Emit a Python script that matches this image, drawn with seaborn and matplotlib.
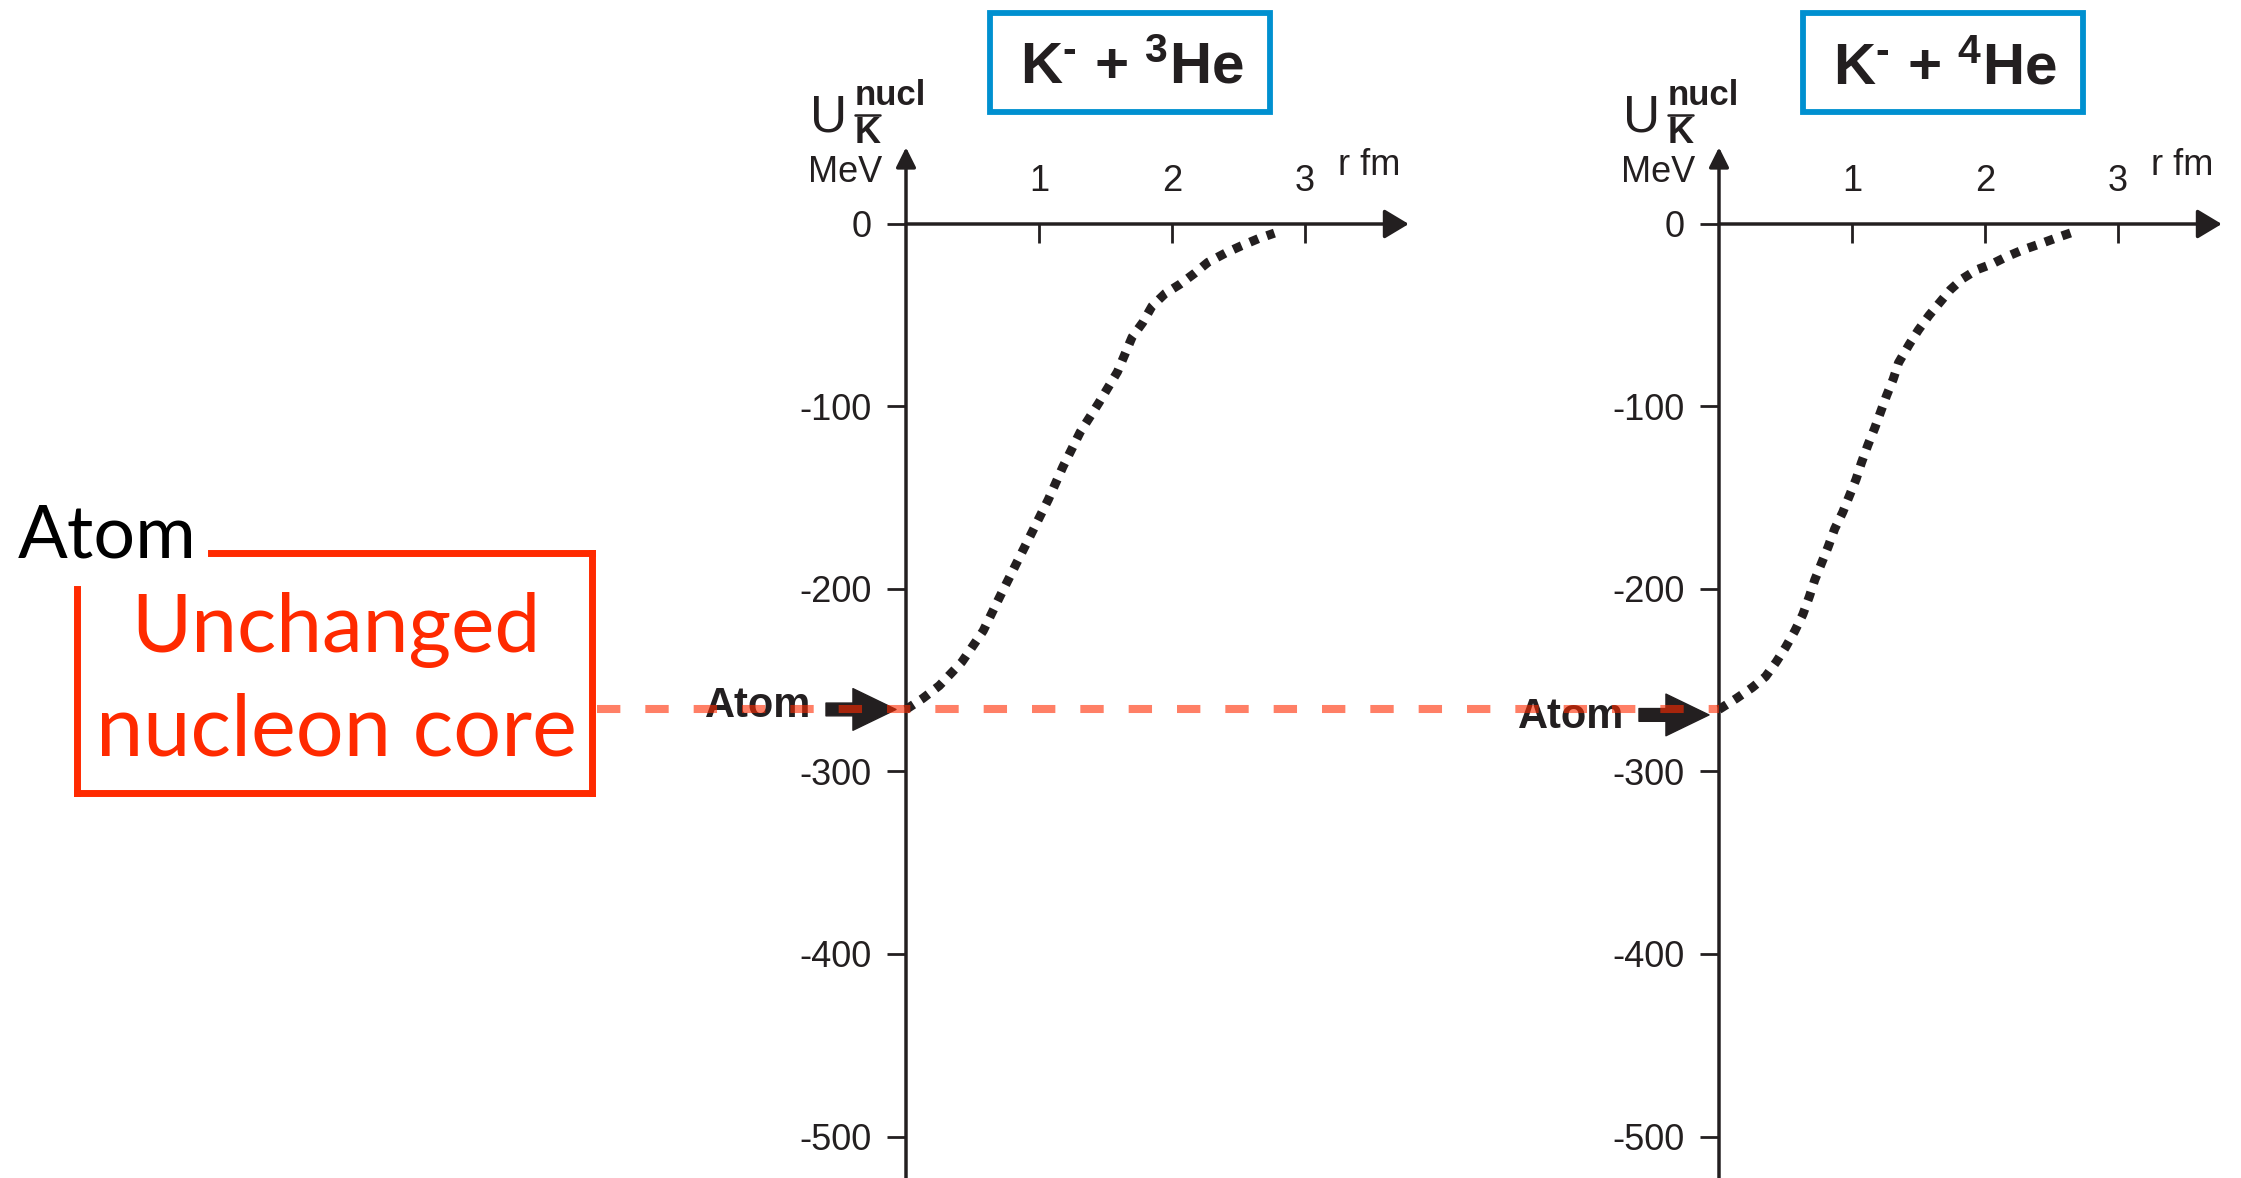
import numpy as np
import pandas as pd
import matplotlib
matplotlib.use('Agg')
import matplotlib.pyplot as plt
import seaborn as sns
from matplotlib.lines import Line2D
from matplotlib.patches import Rectangle

# potencial K- nucleo para 3He y 4He (r en fm, U en MeV)
r_he3 = [0.0, 0.125, 0.25, 0.42, 0.58, 0.70, 0.83, 0.94, 1.07, 1.18, 1.31,
         1.45, 1.59, 1.70, 1.78, 1.85, 1.95, 2.06, 2.17, 2.27, 2.40, 2.52,
         2.65, 2.77]
u_he3 = [-266, -260, -253, -240, -223, -205, -186, -170, -151, -133, -114,
         -98, -81, -62, -54, -45, -38, -33, -27, -21, -16, -12, -8, -5]

r_he4 = [0.0, 0.13, 0.25, 0.35, 0.43, 0.50, 0.57, 0.63, 0.68, 0.72, 0.77,
         0.82, 0.87, 0.93, 0.98, 1.03, 1.07, 1.12, 1.17, 1.21, 1.26, 1.31,
         1.35, 1.43, 1.50, 1.58, 1.66, 1.74, 1.83, 1.94, 2.05, 2.16, 2.29,
         2.41, 2.56, 2.68]
u_he4 = [-266, -260, -254, -248, -240, -232, -223, -214, -204, -195, -186,
         -177, -167, -158, -149, -140, -131, -121, -112, -104, -94, -85,
         -76, -66, -58, -50, -43, -36, -30, -25, -22, -18, -14, -11, -7, -4]

titulos = [r'K$^{\text{-}}$ + ${}^{3}$He', r'K$^{\text{-}}$ + ${}^{4}$He']
x_ticks = [1, 2, 3]
x_tick_labels = ['1', '2', '3']
y_ticks = [0, -100, -200, -300, -400, -500]
y_tick_labels = ['0', '-100', '-200', '-300', '-400', '-500']
nivel_atom = -266

sns.set_style('white')
plt.rcParams['font.family'] = ['Liberation Sans', 'DejaVu Sans']
plt.rcParams['mathtext.fontset'] = 'custom'
plt.rcParams['mathtext.rm'] = 'Liberation Sans:bold'
plt.rcParams['mathtext.bf'] = 'Liberation Sans:bold'
plt.rcParams['mathtext.default'] = 'bf'

tinta = '#231F20'
rojo = '#FF2A00'
azul = '#0090D0'

W, H = 2241, 1178
fig = plt.figure(figsize=(W / 100, H / 100), dpi=100)

PX_FM = 133.0     # pixeles por fm
PX_MEV = 1.825    # pixeles por MeV
Y0 = 224          # pixel del cero de energia
origenes = [906, 1719]

def fx(x):
    return x / W

def fy(y):
    return 1 - y / H

datos = [(r_he3, u_he3), (r_he4, u_he4)]
ejes = []
for i, ox in enumerate(origenes):
    izq, der, arriba = ox - 150, ox + 520, 120
    ax = fig.add_axes([fx(izq), 0, (der - izq) / W, (H - arriba) / H])
    ax.set_xlim(-150 / PX_FM, 520 / PX_FM)
    ax.set_ylim(-(H - Y0) / PX_MEV, (Y0 - arriba) / PX_MEV)
    ax.patch.set_alpha(0)
    for s in ax.spines.values():
        s.set_visible(False)
    ax.spines['left'].set_position(('data', 0))
    ax.spines['top'].set_position(('data', 0))
    ax.xaxis.set_ticks_position('top')
    ax.yaxis.set_ticks_position('left')
    ax.set_xticks(x_ticks)
    ax.set_xticklabels(x_tick_labels)
    ax.set_yticks(y_ticks)
    ax.set_yticklabels(y_tick_labels)
    ax.tick_params(axis='x', direction='in', length=14, width=2, pad=18,
                   labelsize=26, colors=tinta)
    ax.tick_params(axis='y', direction='out', length=14, width=2, pad=11,
                   labelsize=26, colors=tinta)

    # ejes con flechas
    ax.annotate('', xy=(3.78, 0), xytext=(0, 0), annotation_clip=False,
                arrowprops=dict(arrowstyle='-|>,head_length=0.75,head_width=0.45',
                                lw=2.5, color=tinta, mutation_scale=20,
                                shrinkA=0, shrinkB=0))
    ax.annotate('', xy=(0, 42), xytext=(0, ax.get_ylim()[0]), annotation_clip=False,
                arrowprops=dict(arrowstyle='-|>,head_length=0.6,head_width=0.3',
                                lw=2.5, color=tinta, mutation_scale=20,
                                shrinkA=0, shrinkB=0))

    # curva punteada del potencial
    r, u = datos[i]
    sns.lineplot(x=r, y=u, ax=ax, color=tinta, linewidth=6.5, sort=False)
    ln = ax.lines[-1]
    ln.set_linestyle((0, (1.0, 1.0)))
    ln.set_clip_on(False)

    # etiqueta Atom con flecha
    dy = 0 if i == 0 else -3
    ax.text(-95 / PX_FM, nivel_atom + 2 + dy * 2, 'Atom', ha='right', va='center',
            fontsize=30, fontweight='bold', color=tinta)
    ax.annotate('', xy=(-10 / PX_FM, nivel_atom + dy), xytext=(-80 / PX_FM, nivel_atom + dy),
                annotation_clip=False,
                arrowprops=dict(arrowstyle='simple,head_length=1.55,head_width=1.5,tail_width=0.46',
                                color=tinta, mutation_scale=20, shrinkA=0, shrinkB=0))

    # etiquetas de los ejes
    fig.text(fx(ox - 96), fy(131), 'U', fontsize=37, color=tinta, ha='left', va='baseline')
    fig.text(fx(ox - 51), fy(105), 'nucl', fontsize=25, fontweight='bold', color=tinta,
             ha='left', va='baseline')
    fig.text(fx(ox - 51), fy(143), 'K', fontsize=26, fontweight='bold', color=tinta,
             ha='left', va='baseline')
    fig.add_artist(Line2D([fx(ox - 51), fx(ox - 26)], [fy(115), fy(115)], lw=1.8,
                          color=tinta, transform=fig.transFigure))
    fig.text(fx(ox - 24), fy(182), 'MeV', fontsize=26, color=tinta, ha='right', va='baseline')
    fig.text(fx(ox + 432), fy(175), 'r fm', fontsize=26, color=tinta, ha='left', va='baseline')

    # titulo en caja azul
    fig.add_artist(Rectangle((fx(ox + 84), fy(112)), 280 / W, 99 / H, fill=False,
                             ec=azul, lw=4.2, transform=fig.transFigure))
    fig.text(fx(ox + 226), fy(83), titulos[i], fontsize=42, fontweight='bold',
             color=tinta, ha='center', va='baseline')
    ejes.append(ax)

# linea del nivel atomico, cruza ambos paneles
ax1 = ejes[0]
ax1.set_zorder(5)
ax1.plot([(597 - 906) / PX_FM, (1719 - 906) / PX_FM], [nivel_atom, nivel_atom],
         color=rojo, alpha=0.6, lw=5.8, linestyle=(0, (2.9, 3.1)), clip_on=False,
         zorder=10)

# recuadro rojo de la izquierda
lw_caja = 5
for xs, ys in [([211, 592], [553, 553]), ([592, 592], [553, 793]),
               ([77, 592], [793, 793]), ([77, 77], [589, 793])]:
    fig.add_artist(Line2D([fx(v) for v in xs], [fy(v) for v in ys], lw=lw_caja,
                          color=rojo, solid_capstyle='projecting',
                          transform=fig.transFigure))

fig.text(fx(18), fy(557), 'Atom', fontsize=53, family=['Lato', 'DejaVu Sans'],
         color='black', ha='left', va='baseline')
fig.text(fx(336), fy(652), 'Unchanged', fontsize=59, family=['Lato', 'DejaVu Sans'],
         color=rojo, ha='center', va='baseline')
fig.text(fx(336), fy(755), 'nucleon core', fontsize=61, family=['Lato', 'DejaVu Sans'],
         color=rojo, ha='center', va='baseline')

fig.savefig('out.png', dpi=100)
